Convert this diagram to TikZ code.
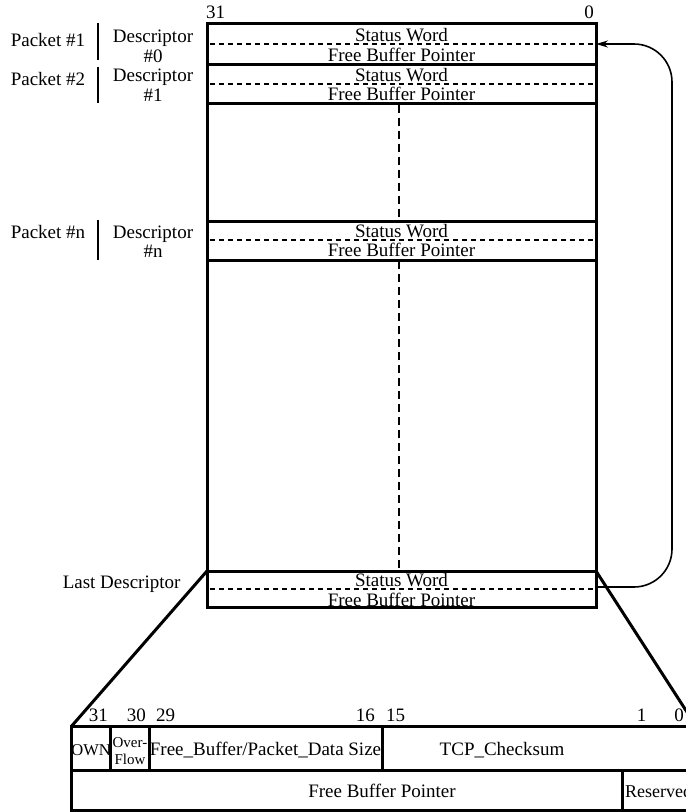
\documentclass[tikz,border=0pt]{standalone}
\usepackage{fontspec}
\setmainfont{Liberation Serif}
\usetikzlibrary{arrows.meta}
\begin{document}
\begin{tikzpicture}[x=1pt,y=-1pt,
  thk/.style={line width=3pt},
  descbox/.style={minimum width=389pt, inner sep=0pt, outer sep=0pt, anchor=north west},
  dsh/.style={line width=1.2pt, dash pattern=on 5pt off 4pt},
  vdsh/.style={line width=1.3pt, dash pattern=on 8pt off 5pt},
  bar/.style={line width=1.4pt},
  txt/.style={inner sep=0pt, font=\fontsize{19}{21}\selectfont},
  small/.style={inner sep=0pt, font=\fontsize{15}{17}\selectfont},
  loopline/.style={line width=1.6pt, rounded corners=38pt, -{Stealth[length=12pt,width=7pt]}}
]
\useasboundingbox (0,0) rectangle (686,812);
\clip (0,0) rectangle (686,812);

% outer box and descriptors
\node[descbox, minimum height=584pt] (outer) at (207,23) {};
\node[descbox, minimum height=41pt] (d0) at (207,23) {};
\node[descbox, minimum height=39.5pt] (d1) at (207,64) {};
\node[descbox, minimum height=39pt] (dn) at (207,221) {};
\node[descbox, minimum height=36pt] (dl) at (207,571) {};
\foreach \n in {outer,d0,d1,dn,dl}
  \draw[thk] (\n.north west) rectangle (\n.south east);

% dashed separators
\draw[dsh] (210,44) -- (593,44);
\draw[dsh] (210,84) -- (593,84);
\draw[dsh] (210,240) -- (593,240);
\draw[dsh] (210,589) -- (593,589);

% vertical dashed centre line
\draw[vdsh] (399,104.5) -- (399,221);
\draw[vdsh] (399,261) -- (399,571);

% texts in descriptors
\node[txt, anchor=base] (sw0) at (401.5,41.5) {Status Word};
\node[txt, anchor=base] (fb0) at (401.5,61) {Free Buffer Pointer};
\node[txt, anchor=base] (sw1) at (401.5,81) {Status Word};
\node[txt, anchor=base] (fb1) at (401.5,100.5) {Free Buffer Pointer};
\node[txt, anchor=base] (swn) at (401.5,237) {Status Word};
\node[txt, anchor=base] (fbn) at (401.5,256) {Free Buffer Pointer};
\node[txt, anchor=base] (swl) at (401.5,586.5) {Status Word};
\node[txt, anchor=base] (fbl) at (401.5,606) {Free Buffer Pointer};

% bit numbers above box
\node[txt, anchor=base west] (b31) at (206,18) {31};
\node[txt, anchor=base east] (b0) at (594,18) {0};

% left labels
\node[txt, anchor=base] (p1) at (48,46) {Packet \#1};
\node[txt, anchor=base] (p2) at (48,85) {Packet \#2};
\node[txt, anchor=base] (pn) at (48,238) {Packet \#n};
\draw[bar] (98,23) -- (98,60);
\draw[bar] (98,67) -- (98,103);
\draw[bar] (98,220) -- (98,260);
\node[txt, anchor=base] (ds0) at (153,42) {Descriptor};
\node[txt, anchor=base] (n0) at (153,62) {\#0};
\node[txt, anchor=base] (ds1) at (153,81) {Descriptor};
\node[txt, anchor=base] (n1) at (153,101) {\#1};
\node[txt, anchor=base] (dsn) at (153,238) {Descriptor};
\node[txt, anchor=base] (nn) at (153,257) {\#n};
\node[txt, anchor=base] (last) at (121.6,588) {Last Descriptor};

% loop connector
\draw[loopline] (dl.east |- 0,587) -- (672,587) |- (d0.east |- 0,44);

% detail table
\node[descbox, minimum width=624.3pt, minimum height=84pt] (tbl) at (71.7,726) {};
\draw[thk] (tbl.north west) rectangle (tbl.south east);
\draw[thk] (dl.north west) -- (tbl.north west);
\draw[thk] (dl.north east) -- (tbl.north east);
\draw[thk] (71.7,770) -- (696,770);
\draw[thk] (110.7,726) -- (110.7,770);
\draw[thk] (149.3,726) -- (149.3,770);
\draw[thk] (382.6,726) -- (382.6,770);
\draw[thk] (622.5,770) -- (622.5,810);

% bit labels
\node[txt, anchor=base east] (t31) at (108,721) {31};
\node[txt, anchor=base east] (t30) at (146,721) {30};
\node[txt, anchor=base west] (t29) at (156,721) {29};
\node[txt, anchor=base east] (t16) at (375,721) {16};
\node[txt, anchor=base west] (t15) at (386,721) {15};
\node[txt, anchor=base] (t1) at (641.7,721) {1};
\node[txt, anchor=base] (t0) at (679,721) {0};

% table texts
\node[inner sep=0pt, font=\fontsize{16.5}{18}\selectfont, anchor=base] (own) at (91.2,755) {OWN};
\node[small, anchor=base] (ovr) at (130,747) {Over-};
\node[small, anchor=base] (flw) at (130,764) {Flow};
\node[txt, anchor=base] (fbs) at (265.5,755) {Free\_Buffer/Packet\_Data Size};
\node[txt, anchor=base] (tcp) at (502,755) {TCP\_Checksum};
\node[txt, anchor=base] (fbp) at (382,797) {Free Buffer Pointer};
\node[inner sep=0pt, font=\fontsize{18}{20}\selectfont, anchor=base west] (res) at (625,797) {Reserved};
\end{tikzpicture}
\end{document}
